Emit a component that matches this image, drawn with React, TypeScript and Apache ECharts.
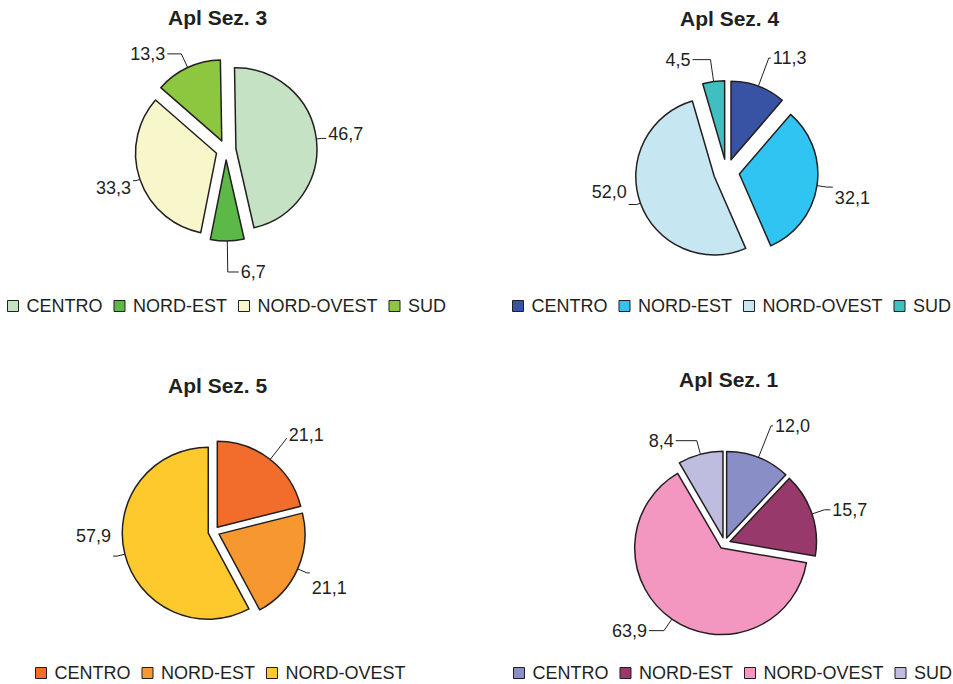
import React, { useEffect, useRef } from 'react';
import * as echarts from 'echarts';

// Regions (legend order, clockwise from 12 o'clock)
const REGIONS = ['CENTRO', 'NORD-EST', 'NORD-OVEST', 'SUD'];
const REGIONS_SEZ5 = ['CENTRO', 'NORD-EST', 'NORD-OVEST'];

// Percentages per section
const SEZ3_VALUES = [46.7, 6.7, 33.3, 13.3];
const SEZ4_VALUES = [11.3, 32.1, 52.0, 4.5];
const SEZ5_VALUES = [21.1, 21.1, 57.9];
const SEZ1_VALUES = [12.0, 15.7, 63.9, 8.4];

// Slice palettes
const SEZ3_COLORS = ['#c5e3c4', '#5cb847', '#f8f7cc', '#8dc63f'];
const SEZ4_COLORS = ['#3953a4', '#2fc4f1', '#c6e7f2', '#40bfc1'];
const SEZ5_COLORS = ['#f26c2b', '#f7972f', '#fec92d'];
const SEZ1_COLORS = ['#8a8ec6', '#973a6b', '#f397c1', '#bfbddf'];

const INK = '#231f20';
const FONT = "'Liberation Sans', Arial, Helvetica, sans-serif";

// Leader line lengths per slice; `shift` moves the value text up (<0) or down (>0)
// relative to the end of its leader line.
type Leader = { length: number; length2: number; shift?: number };

type PanelSpec = {
  title: string;
  names: string[];
  values: number[];
  colors: string[];
  box: { left: number; top: number; width: number; height: number };
  center: [number, number];
  radius: number;
  explode: number;
  startAngle: number;
  titlePos: { left: number; top: number };
  legendPos: { left: number; top: number };
  leaders: Leader[];
};

const PANELS: PanelSpec[] = [
  {
    title: 'Apl Sez. 3',
    names: REGIONS,
    values: SEZ3_VALUES,
    colors: SEZ3_COLORS,
    box: { left: 0, top: 0, width: 476, height: 342 },
    center: [226, 150],
    radius: 81,
    explode: 10,
    startAngle: 91,
    titlePos: { left: 168, top: 7 },
    legendPos: { left: 7, top: 297 },
    leaders: [
      { length: 5, length2: 5, shift: -4 },
      { length: 31, length2: 11 },
      { length: 4, length2: 3, shift: 7 },
      { length: 15, length2: 14 },
    ],
  },
  {
    title: 'Apl Sez. 4',
    names: REGIONS,
    values: SEZ4_VALUES,
    colors: SEZ4_COLORS,
    box: { left: 476, top: 0, width: 477, height: 342 },
    center: [250.5, 172],
    radius: 78.5,
    explode: 13,
    startAngle: 90,
    titlePos: { left: 204, top: 8 },
    legendPos: { left: 36, top: 297 },
    leaders: [
      { length: 30, length2: 2 },
      { length: 10, length2: 6, shift: 11 },
      { length: 4, length2: 8, shift: -13 },
      { length: 22, length2: 18 },
    ],
  },
  {
    title: 'Apl Sez. 5',
    names: REGIONS_SEZ5,
    values: SEZ5_VALUES,
    colors: SEZ5_COLORS,
    box: { left: 0, top: 342, width: 476, height: 342 },
    center: [213.8, 189.8],
    radius: 86,
    explode: 5.7,
    startAngle: 90,
    titlePos: { left: 168, top: 33 },
    legendPos: { left: 35, top: 322 },
    leaders: [
      { length: 27, length2: 0, shift: -3 },
      { length: 10, length2: 3, shift: 15 },
      { length: 8, length2: 4, shift: -20 },
    ],
  },
  {
    title: 'Apl Sez. 1',
    names: REGIONS,
    values: SEZ1_VALUES,
    colors: SEZ1_COLORS,
    box: { left: 476, top: 342, width: 477, height: 342 },
    center: [248.5, 201.3],
    radius: 86.5,
    explode: 5.8,
    startAngle: 90,
    titlePos: { left: 203, top: 27 },
    legendPos: { left: 37, top: 322 },
    leaders: [
      { length: 34, length2: 2 },
      { length: 13, length2: 6 },
      { length: 14, length2: 15 },
      { length: 14, length2: 21 },
    ],
  },
];

const fmt = (v: number) => v.toFixed(1).replace('.', ',');

// Value label for one slice; a blank line above or below, sized by lineHeight,
// moves the visible value relative to the leader end.
function sliceLabel(value: number, lead: Leader) {
  const s = lead.shift || 0;
  const text = fmt(value);
  if (!s) return { formatter: text };
  return {
    formatter: s > 0 ? '\n' + text : text + '\n',
    lineHeight: Math.abs(s) * 2,
  };
}

function buildOption(spec: PanelSpec): echarts.EChartsOption {
  return {
    animation: false,
    backgroundColor: '#ffffff',
    textStyle: { fontFamily: FONT },
    title: {
      text: spec.title,
      left: spec.titlePos.left,
      top: spec.titlePos.top,
      padding: 0,
      textStyle: { fontSize: 21, fontWeight: 'bold', color: INK, fontFamily: FONT },
    },
    legend: {
      data: spec.names,
      left: spec.legendPos.left,
      top: spec.legendPos.top,
      width: 470,
      padding: 0,
      icon: 'rect',
      itemWidth: 11,
      itemHeight: 11,
      itemGap: 11,
      selectedMode: false,
      itemStyle: { borderColor: INK, borderWidth: 1 },
      textStyle: { fontSize: 18, color: INK, fontFamily: FONT, padding: [0, 0, 0, 3] },
    },
    series: [
      {
        type: 'pie',
        center: spec.center,
        radius: spec.radius,
        startAngle: spec.startAngle,
        clockwise: true,
        selectedMode: 'multiple',
        selectedOffset: spec.explode,
        avoidLabelOverlap: false,
        silent: true,
        itemStyle: { borderColor: INK, borderWidth: 1.5 },
        select: { itemStyle: { borderColor: INK, borderWidth: 1.5 } },
        emphasis: { disabled: true },
        label: {
          show: true,
          position: 'outside',
          fontSize: 18,
          color: INK,
          fontFamily: FONT,
          distanceToLabelLine: 2,
        },
        labelLine: { show: true, lineStyle: { color: INK, width: 1 } },
        data: spec.names.map((name, i) => {
          const lead = spec.leaders[i];
          return {
            name,
            value: spec.values[i],
            selected: true,
            itemStyle: { color: spec.colors[i] },
            labelLine: { length: lead.length, length2: lead.length2 },
            label: sliceLabel(spec.values[i], lead),
          };
        }),
      },
    ],
  };
}

function PiePanel({ spec }: { spec: PanelSpec }) {
  const ref = useRef<HTMLDivElement>(null);
  useEffect(() => {
    if (!ref.current) return;
    const chart = echarts.init(ref.current, null, { renderer: 'svg' });
    chart.setOption(buildOption(spec));
    return () => chart.dispose();
  }, [spec]);
  const b = spec.box;
  return (
    <div
      ref={ref}
      style={{ position: 'absolute', left: b.left, top: b.top, width: b.width, height: b.height }}
    />
  );
}

export default function App() {
  return (
    <div
      style={{
        position: 'fixed',
        left: 0,
        top: 0,
        width: 953,
        height: 684,
        background: '#ffffff',
        overflow: 'hidden',
      }}
    >
      {PANELS.map((p) => (
        <PiePanel key={p.title} spec={p} />
      ))}
    </div>
  );
}
